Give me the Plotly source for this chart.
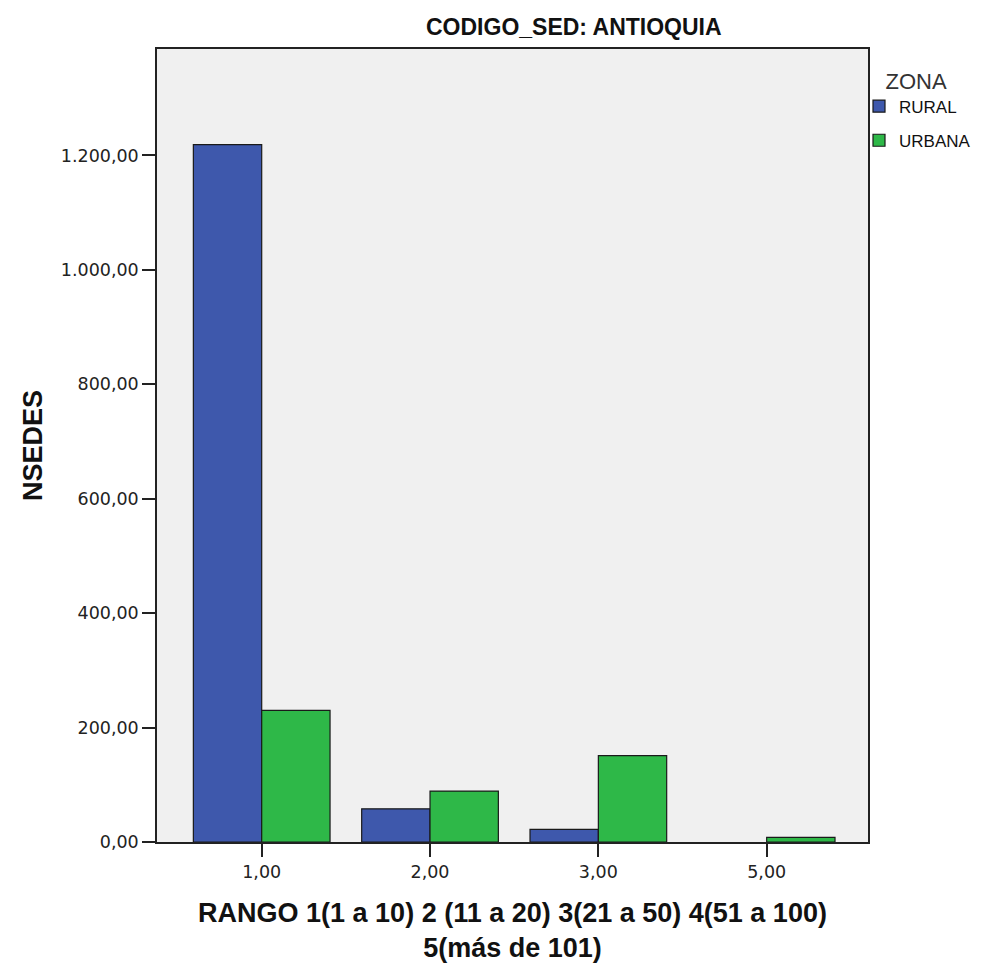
import plotly.graph_objects as go

categories = ["1,00", "2,00", "3,00", "5,00"]
rural = [1219, 58, 22, None]
urbana = [230, 89, 151, 8]
y_ticks = [0, 200, 400, 600, 800, 1000, 1200]

BLUE = "#3E58AC"
GREEN = "#2EB848"
NARROW = "Liberation Sans Narrow, Arial Narrow, Arial"
SANS = "Liberation Sans, Arial"
WIDE = "DejaVu Sans, Verdana, Arial"

# page body has an 8px margin; plot area target: x 157..868, y 49..842
PL, PR, PT, PB = 157, 868, 49, 842

fig = go.Figure()
fig.add_trace(go.Bar(name="RURAL", x=categories, y=rural, legendgroup="r",
                     marker=dict(color=BLUE, line=dict(color="#1a1a1a", width=1.2))))
fig.add_trace(go.Bar(name="URBANA", x=categories, y=urbana, legendgroup="u",
                     marker=dict(color=GREEN, line=dict(color="#1a1a1a", width=1.2))))

fig.update_layout(
    width=976, height=955,
    margin=dict(l=PL - 8, r=976 - (PR - 8), t=PT - 8, b=955 - (PB - 8), autoexpand=False),
    paper_bgcolor="white", plot_bgcolor="#F0F0F0",
    barmode="group", bargap=0.188, bargroupgap=0,
    separators=",.",
    showlegend=True,
    legend=dict(title=dict(text="&nbsp;&nbsp;&nbsp;&nbsp;ZONA", font=dict(family=SANS, size=22, color="#333")),
                font=dict(family=SANS, size=17, color="#111"),
                x=(859 - PL) / (PR - PL), xanchor="left", y=(PB - 60) / (PB - PT), yanchor="top",
                bgcolor="rgba(0,0,0,0)", itemwidth=30, tracegroupgap=9),
    font=dict(family=SANS, color="#222"),
)

fig.update_xaxes(
    type="category", range=[-0.622, 3.602], automargin=False,
    showline=True, linecolor="#222", linewidth=1.5, mirror=True,
    ticks="outside", ticklen=13, tickcolor="#222", tickwidth=1.5,
    tickfont=dict(family=WIDE, size=17.5, color="#222"),
    showgrid=False,
    title=dict(text="<b>RANGO 1(1 a 10) 2 (11 a 20) 3(21 a 50) 4(51 a 100)<br>5(más de 101)</b>",
               font=dict(family=NARROW, size=27, color="#111"), standoff=22),
)
fig.update_yaxes(
    range=[0, 1386], tickvals=y_ticks, tickformat=",.2f", automargin=False,
    showline=True, linecolor="#222", linewidth=1.5, mirror=True,
    ticks="outside", ticklen=13, tickcolor="#222", tickwidth=1.5,
    tickfont=dict(family=WIDE, size=17.5, color="#222"),
    showgrid=False, zeroline=False,
    title=dict(text="<b>NSEDES</b>", font=dict(family=SANS, size=27, color="#111"), standoff=10),
)

fig.add_annotation(text="<b>CODIGO_SED: ANTIOQUIA</b>", xref="paper", yref="paper",
                   x=(574 - PL) / (PR - PL), y=1.0, yshift=7, xanchor="center", yanchor="bottom",
                   showarrow=False, font=dict(family=NARROW, size=23, color="#111"))

fig.write_html("out.html")
